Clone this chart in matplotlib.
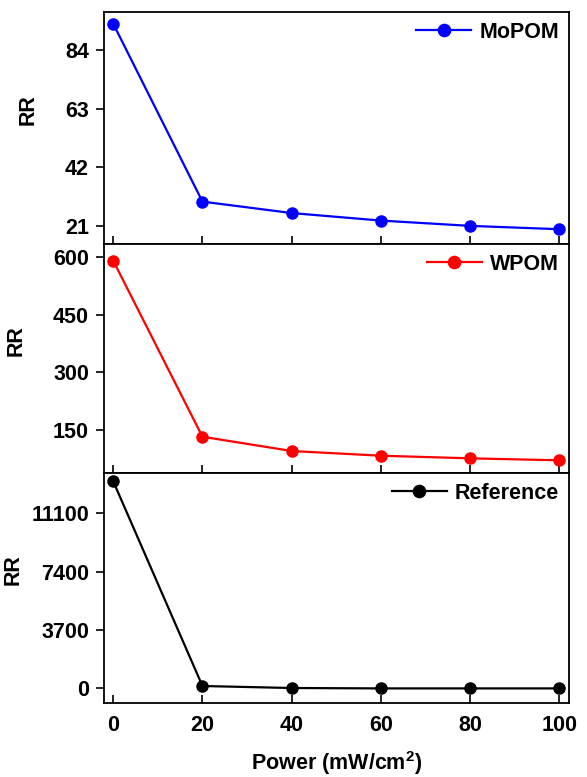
import matplotlib
matplotlib.use("Agg")
import matplotlib.pyplot as plt

power = [0, 20, 40, 60, 80, 100]
mopom = [93.5, 29.7, 25.6, 22.9, 21.0, 19.8]
wpom = [589.6, 133.4, 96.4, 84.2, 77.4, 72.3]
reference = [13127, 152, 25, 0, 0, 0]

series_names = ["MoPOM", "WPOM", "Reference"]
series_colors = ["#0000ff", "#ff0000", "#000000"]
yticks_list = [[21, 42, 63, 84], [150, 300, 450, 600], [0, 3700, 7400, 11100]]
ylims = [(14.5, 97.6), (39.4, 632.9), (-906, 13652)]
xticks = [0, 20, 40, 60, 80, 100]
label_x = [-0.141, -0.167, -0.174]

plt.rcParams['font.family'] = ['Liberation Sans', 'DejaVu Sans']
plt.rcParams['font.weight'] = 'bold'
plt.rcParams['mathtext.fontset'] = 'custom'
plt.rcParams['mathtext.bf'] = 'Liberation Sans:bold'
plt.rcParams['mathtext.rm'] = 'Liberation Sans:bold'
plt.rcParams['mathtext.default'] = 'bf'

FS = 15.5
fig = plt.figure(figsize=(5.87, 7.77), dpi=100)
left = 104.3 / 587
width = (568.7 - 104.3) / 587
tops = [12.3, 244, 473]
bottoms = [244, 473, 702.7]
data = [mopom, wpom, reference]

for i in range(3):
    b = 1 - bottoms[i] / 777
    h = (bottoms[i] - tops[i]) / 777
    ax = fig.add_axes([left, b, width, h])
    ax.plot(power, data[i], color=series_colors[i], lw=1.6, marker='o',
            markersize=8, label=series_names[i])
    ax.set_xlim(-2, 102.1)
    ax.set_ylim(*ylims[i])
    ax.set_yticks(yticks_list[i])
    ax.set_xticks(xticks)
    for s in ax.spines.values():
        s.set_linewidth(1.3)
    ax.tick_params(axis='y', direction='out', length=6, width=1.2, labelsize=FS, pad=5)
    ax.tick_params(axis='x', direction='in', length=6, width=1.2, labelsize=FS, pad=9)
    for lab in ax.get_yticklabels() + ax.get_xticklabels():
        lab.set_fontweight('bold')
    if i < 2:
        ax.tick_params(axis='x', labelbottom=False)
    ax.set_ylabel("RR", fontsize=FS, fontweight='bold')
    ax.yaxis.set_label_coords(label_x[i], 0.58)
    ax.legend(loc='upper right', frameon=False, handlelength=2.56,
              handletextpad=0.37, borderaxespad=0.25, borderpad=0.2,
              markerscale=1.1,
              prop={'weight': 'bold', 'size': FS})
    if i == 2:
        ax.set_xlabel("Power (mW/cm$^{2}$)", fontsize=15.5, fontweight='bold', labelpad=9)

fig.savefig("out.png", dpi=100)
